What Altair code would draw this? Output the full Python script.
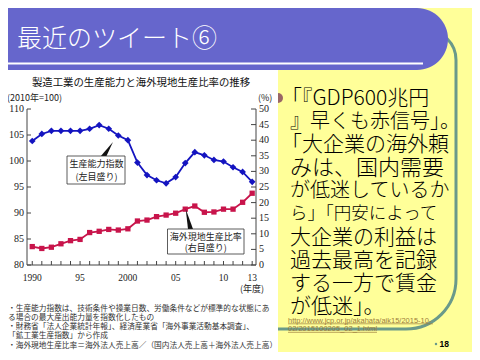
import altair as alt
import pandas as pd

# ---------------- data ----------------
years = list(range(1990, 2014))
capacity_index = [103.85, 105.2, 105.8, 105.8, 105.8, 105.8, 106.2, 106.9, 106.2, 104.9,
                  104.0, 99.7, 97.3, 96.3, 95.7, 96.9, 99.6, 101.7, 101.1, 100.2,
                  99.9, 98.8, 97.9, 96.0]
overseas_ratio = [5.9, 5.3, 5.7, 6.8, 7.8, 8.2, 10.4, 10.8, 11.4, 11.2,
                  11.6, 14.1, 14.4, 15.5, 16.0, 16.6, 17.9, 18.9, 16.9, 17.0,
                  17.9, 17.9, 20.1, 23.0]
left_ticks = [80, 85, 90, 95, 100, 105, 110]
right_ticks = [0, 5, 10, 15, 20, 25, 30, 35, 40, 45, 50]
x_label_years = [1990, 1995, 2000, 2005, 2010, 2013]
x_label_text = ["1990", "95", "2000", "05", "10", "13"]

slide_title = "最近のツイート⑥"
chart_title = "製造工業の生産能力と海外現地生産比率の推移"
left_unit = "(2010年=100)"
right_unit = "(%)"
x_unit = "(年度)"
label_capacity = ["生産能力指数", "(左目盛り)"]
label_overseas = ["海外現地生産比率", "(右目盛り)"]
footnotes = [
    "・生産能力指数は、技術条件や操業日数、労働条件などが標準的な状態にあ",
    "　る場合の最大産出能力量を指数化したもの",
    "・財務省「法人企業統計年報」、経済産業省「海外事業活動基本調査」、",
    "　「鉱工業生産指数」から作成",
    "・海外現地生産比率＝海外法人売上高／（国内法人売上高＋海外法人売上高）",
]
tweet_lines = [
    "「『GDP600兆円",
    "』早くも赤信号」。",
    "「大企業の海外頼",
    "みは、国内需要",
    "が低迷しているか",
    "ら」「円安によって",
    "大企業の利益は",
    "過去最高を記録",
    "する一方で賃金",
    "が低迷」。",
]
source_url = ["http://www.jcp.or.jp/akahata/aik15/2015-10-", "02/2015100205_02_1.html"]
page_number = "18"

# ---------------- styling ----------------
W, H = 229, 156
OX, OY = 27, 109          # page position of the plot origin (8px page margin + padding)
JP = "Noto Sans CJK JP"
SERIF = "Liberation Serif"
BLUE = "#1414C0"
RED = "#C8144B"
AX = "#444444"
LBL = "#222222"
PURPLE = "#6666CC"
TEAL = "#6A9A8A"
YELLOW = "#FFFF99"
LINK = "#9C7C3C"

def px(x):
    return x - OX

def py(y):
    return y - OY

one = pd.DataFrame({"k": [0]})

def box(x1, y1, x2, y2, **mark):
    return alt.Chart(one).mark_rect(**mark).encode(
        x=alt.value(px(x1)), x2=alt.value(px(x2)),
        y=alt.value(py(y1)), y2=alt.value(py(y2)))

def label(text, x, y, **mark):
    return alt.Chart(one).mark_text(**mark).encode(
        x=alt.value(px(x)), y=alt.value(py(y)), text=alt.value(text))

def hline(x1, x2, y, **mark):
    return alt.Chart(one).mark_rule(**mark).encode(
        x=alt.value(px(x1)), x2=alt.value(px(x2)), y=alt.value(py(y)))

def wedge(path, cx, cy, size):
    return alt.Chart(one).mark_point(shape=path, filled=True, color="#111111",
                                     opacity=1, size=size, strokeWidth=0).encode(
        x=alt.value(px(cx)), y=alt.value(py(cy)))

# ---------------- scales ----------------
df = pd.DataFrame({"year": years, "capacity": capacity_index, "overseas": overseas_ratio})
xscale = alt.Scale(domain=[1989.45, 2013.4], nice=False, zero=False)
yl = alt.Scale(domain=[80, 110], nice=False, zero=False)
yr = alt.Scale(domain=[0, 50], nice=False, zero=False)
xn = alt.X("year:Q", scale=xscale, axis=None)

# left (capacity index) group: line, markers, inward ticks, labels
blue_line = alt.Chart(df).mark_line(color=BLUE, strokeWidth=1.8).encode(
    x=xn, y=alt.Y("capacity:Q", scale=yl, axis=None))
blue_pts = alt.Chart(df).mark_point(shape="diamond", filled=True, color=BLUE, size=45, opacity=1).encode(
    x=xn, y=alt.Y("capacity:Q", scale=yl, axis=None))
lt = pd.DataFrame({"v": left_ticks})
left_tick_rules = alt.Chart(lt).mark_rule(color=AX, strokeWidth=1).encode(
    y=alt.Y("v:Q", scale=yl, axis=None), x=alt.value(0), x2=alt.value(4))
left_labels = alt.Chart(lt).mark_text(font=SERIF, fontSize=10, color=LBL, align="right").encode(
    y=alt.Y("v:Q", scale=yl, axis=None), x=alt.value(-3), text="v:Q")
left_group = alt.layer(blue_line, blue_pts, left_tick_rules, left_labels)

# right (overseas ratio) group
red_line = alt.Chart(df).mark_line(color=RED, strokeWidth=1.8).encode(
    x=xn, y=alt.Y("overseas:Q", scale=yr, axis=None))
red_pts = alt.Chart(df).mark_point(shape="square", filled=True, color=RED, size=28, opacity=1).encode(
    x=xn, y=alt.Y("overseas:Q", scale=yr, axis=None))
rt = pd.DataFrame({"v": right_ticks})
right_tick_rules = alt.Chart(rt).mark_rule(color=AX, strokeWidth=1).encode(
    y=alt.Y("v:Q", scale=yr, axis=None), x=alt.value(W - 5), x2=alt.value(W))
right_labels = alt.Chart(rt).mark_text(font=SERIF, fontSize=10, color=LBL, align="left").encode(
    y=alt.Y("v:Q", scale=yr, axis=None), x=alt.value(W + 3), text="v:Q")
right_group = alt.layer(red_line, red_pts, right_tick_rules, right_labels)

# bottom axis
xt = pd.DataFrame({"year": years})
x_tick_rules = alt.Chart(xt).mark_rule(color=AX, strokeWidth=1).encode(
    x=xn, y=alt.value(H), y2=alt.value(H - 4))
xl = pd.DataFrame({"year": x_label_years, "txt": x_label_text})
x_labels = alt.Chart(xl).mark_text(font=SERIF, fontSize=9.5, color=LBL).encode(
    x=xn, y=alt.value(H + 13), text="txt:N")
domains = [
    alt.Chart(one).mark_rule(color=AX, strokeWidth=1).encode(x=alt.value(0), y=alt.value(0), y2=alt.value(H)),
    alt.Chart(one).mark_rule(color=AX, strokeWidth=1).encode(x=alt.value(W), y=alt.value(0), y2=alt.value(H)),
    alt.Chart(one).mark_rule(color=AX, strokeWidth=1).encode(x=alt.value(0), x2=alt.value(W), y=alt.value(H)),
]

# ---------------- slide decoration ----------------
layers = []
layers.append(box(262, 30, 456, 329, filled=False, color=TEAL, strokeWidth=3,
                  cornerRadiusTopRight=30, cornerRadiusBottomRight=50))
layers.append(box(-30, 8, 448, 70, color=PURPLE, cornerRadiusTopRight=31, cornerRadiusBottomRight=31))
layers.append(box(-30, 62.5, 423, 64.5, color="white"))
layers.append(label(slide_title, 17, 38.7, font=JP, fontSize=25, fontWeight=300, color="white", align="left"))
layers.append(alt.Chart(one).mark_point(shape="circle", filled=True, color="#996666", size=100,
                                        opacity=1).encode(x=alt.value(px(278)), y=alt.value(py(98))))
layers.append(box(-30, 70, 278, 370, color="white"))
layers.append(label(chart_title, 141, 82.5, font=JP, fontSize=10.4, color="#111111"))
layers.append(label(left_unit, 7, 98, font=JP, fontSize=9, color=LBL, align="left"))
layers.append(label(right_unit, 258, 98, font=JP, fontSize=9, color=LBL, align="left"))
layers.append(label(x_unit, 252, 289, font=JP, fontSize=9, color=LBL))

layers += domains
layers += [left_group, right_group, x_tick_rules, x_labels]

# annotations
layers.append(wedge("M -0.81 0.94 L -0.06 0.94 L 0.81 -0.94 Z", 106.5, 149.5, 256))
layers.append(box(67, 156, 125, 184, fill="white", stroke="#333333", strokeWidth=0.8))
layers.append(label(label_capacity[0], 96.5, 164, font=JP, fontSize=9, color=LBL))
layers.append(label(label_capacity[1], 96.5, 177, font=JP, fontSize=9, color=LBL))
layers.append(wedge("M -0.13 1 L 0.37 1 L -0.36 -1 Z", 189.3, 219, 400))
layers.append(box(167.5, 229, 244, 254, fill="white", stroke="#333333", strokeWidth=0.8))
layers.append(label(label_overseas[0], 205.7, 237, font=JP, fontSize=9, color=LBL))
layers.append(label(label_overseas[1], 205.7, 248, font=JP, fontSize=9, color=LBL))

# footnotes
foot_y = [308.5, 317.5, 327, 335.5, 346]
for t, yy in zip(footnotes, foot_y):
    layers.append(label(t, 8, yy, font=JP, fontSize=7.7, color="#333333", align="left"))

# tweet text
tweet_sizes = [21, 20, 21, 22, 20, 17.5, 21, 21, 21, 21]
for i, (t, fs) in enumerate(zip(tweet_lines, tweet_sizes)):
    x0 = 290 - (0.43 * fs if t.startswith("「") else 0)
    layers.append(label(t, x0, 97 + 23.2 * i + 0.08 * fs, font=JP, fontSize=fs, fontWeight=300,
                        color="#000000", align="left"))

# source link
layers.append(label(source_url[0], 288, 320.5, font="Liberation Sans", fontSize=7.5, color=LINK, align="left"))
layers.append(label(source_url[1], 288, 329, font="Liberation Sans", fontSize=7.5, color=LINK, align="left"))
layers.append(hline(288, 433, 323.8, color=LINK, strokeWidth=0.7))
layers.append(hline(288, 377, 332.3, color=LINK, strokeWidth=0.7))

# page number
layers.append(alt.Chart(one).mark_point(shape="circle", filled=True, color=TEAL, size=6,
                                        opacity=1).encode(x=alt.value(px(436)), y=alt.value(py(344))))
layers.append(label(page_number, 439.5, 343.5, font="Liberation Sans", fontSize=8.5,
                    fontWeight="bold", color="#000000", align="left"))

chart = alt.layer(*layers).resolve_scale(y="independent").properties(
    width=W, height=H,
    padding={"left": 19, "top": 101, "right": 464 - 19 - W, "bottom": 344 - 101 - H},
    autosize=alt.AutoSizeParams(type="none"),
).configure(background=YELLOW).configure_view(strokeWidth=0)

chart.save("out.html", embed_options={"renderer": "svg", "actions": False})
